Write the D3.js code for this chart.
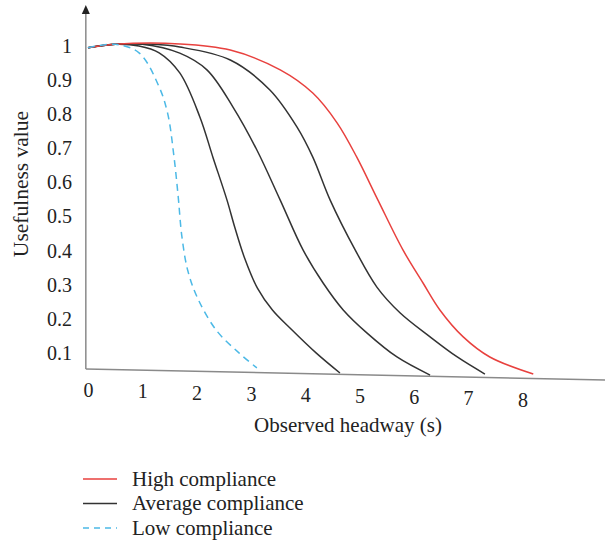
<html>
  <head>
    <script src="https://d3js.org/d3.v7.min.js"></script>
    <style>
      body { margin: 0; background: #fff; }
      text { font-family: "Liberation Serif", "DejaVu Serif", serif; fill: #222; }
    </style>
  </head>
  <body>
    <svg id="chart" width="605" height="541"></svg>
    <script>
      // tick values
      var xTicks = [0, 1, 2, 3, 4, 5, 6, 7, 8];
      var yTicks = [0.1, 0.2, 0.3, 0.4, 0.5, 0.6, 0.7, 0.8, 0.9, 1];

      // curves: [headway (s), usefulness]
      var highCompliance = [
        [0, 0.995], [0.5, 1.005], [1.69, 1.006], [2.62, 0.988], [3.54, 0.93],
        [4.14, 0.862], [4.59, 0.774], [4.95, 0.674], [5.34, 0.548], [5.8, 0.402],
        [6.17, 0.305], [6.48, 0.226], [6.91, 0.147], [7.4, 0.088], [8.2, 0.038]
      ];
      var averageCompliance1 = [
        [0, 0.995], [0.5, 1.005], [0.94, 1.0], [1.31, 0.98], [1.69, 0.921],
        [2.06, 0.792], [2.3, 0.674], [2.56, 0.548], [2.7, 0.47], [2.88, 0.38],
        [3.12, 0.29], [3.4, 0.225], [3.72, 0.173], [4.2, 0.1], [4.64, 0.041]
      ];
      var averageCompliance2 = [
        [0, 0.995], [0.5, 1.005], [1.0, 1.005], [1.69, 0.979], [2.19, 0.93],
        [2.67, 0.821], [3.11, 0.695], [3.54, 0.548], [3.96, 0.402], [4.33, 0.305],
        [4.7, 0.226], [5.14, 0.158], [5.69, 0.088], [6.3, 0.035]
      ];
      var averageCompliance3 = [
        [0, 0.995], [0.5, 1.005], [1.2, 1.005], [1.69, 0.997], [2.62, 0.959],
        [3.35, 0.871], [3.85, 0.762], [4.14, 0.674], [4.46, 0.548], [4.92, 0.402],
        [5.32, 0.293], [5.75, 0.217], [6.3, 0.147], [6.8, 0.088], [7.31, 0.038]
      ];
      var lowCompliance = [
        [0, 0.995], [0.5, 1.005], [0.94, 0.98], [1.31, 0.88], [1.47, 0.8],
        [1.58, 0.68], [1.66, 0.56], [1.73, 0.44], [1.84, 0.34], [2.02, 0.26],
        [2.36, 0.167], [2.78, 0.1], [3.11, 0.056]
      ];

      var legendItems = [
        { label: "High compliance", color: "#e8413e", dash: null },
        { label: "Average compliance", color: "#333333", dash: null },
        { label: "Low compliance", color: "#4cb9e6", dash: "6,5" }
      ];

      var svg = d3.select("#chart");

      var x = d3.scaleLinear().domain([0, 9.6]).range([88, 88 + 9.6 * 54.3]);
      var y = d3.scaleLinear().domain([0, 1]).range([387, 46]);

      // the baseline in the original drifts slightly downward to the right
      var baseStart = [-0.04, 0.053], baseEnd = [9.6, 0.02];
      var slope = (y(baseEnd[1]) - y(baseStart[1])) / (x(baseEnd[0]) - x(baseStart[0]));

      // y axis with arrow
      var yAxisX = x(-0.04);
      svg.append("line")
        .attr("x1", yAxisX).attr("x2", yAxisX)
        .attr("y1", y(baseStart[1])).attr("y2", 13)
        .attr("stroke", "#8a8a8a").attr("stroke-width", 1.5);
      svg.append("path")
        .attr("d", "M" + yAxisX + ",5 L" + (yAxisX - 4) + ",14 L" + (yAxisX + 4) + ",14 Z")
        .attr("fill", "#222");

      // x baseline
      svg.append("line")
        .attr("x1", x(baseStart[0])).attr("y1", y(baseStart[1]))
        .attr("x2", x(baseEnd[0])).attr("y2", y(baseEnd[1]))
        .attr("stroke", "#8a8a8a").attr("stroke-width", 1.5);

      // y tick labels
      var gy = svg.append("g")
        .attr("transform", "translate(72,0)")
        .call(d3.axisLeft(y).tickValues(yTicks).tickSize(0).tickPadding(0)
          .tickFormat(function (d) { return d === 1 ? "1" : d.toFixed(1); }));
      gy.select(".domain").remove();
      gy.selectAll("text")
        .style("font-family", "Liberation Serif, serif")
        .style("font-size", "20px")
        .attr("fill", "#222");

      // x tick labels (follow the sloping baseline)
      var gx = svg.append("g")
        .attr("transform", "translate(0,383)")
        .call(d3.axisBottom(x).tickValues(xTicks).tickSize(0).tickPadding(0)
          .tickFormat(d3.format("d")));
      gx.select(".domain").remove();
      gx.selectAll(".tick text")
        .style("font-family", "Liberation Serif, serif")
        .style("font-size", "20px")
        .attr("fill", "#222")
        .attr("dy", function (d) { return (0.71 * 20 + (x(d) - x(0)) * slope) + "px"; });

      // axis titles
      svg.append("text")
        .attr("x", 348).attr("y", 432)
        .attr("text-anchor", "middle")
        .style("font-size", "21px")
        .text("Observed headway (s)");
      svg.append("text")
        .attr("transform", "translate(28,184) rotate(-90)")
        .attr("text-anchor", "middle")
        .style("font-size", "21.5px")
        .text("Usefulness value");

      // curves
      var line = d3.line()
        .x(function (d) { return x(d[0]); })
        .y(function (d) { return y(d[1]); })
        .curve(d3.curveCatmullRom.alpha(0.5));

      var series = [
        { data: averageCompliance1, style: legendItems[1] },
        { data: averageCompliance2, style: legendItems[1] },
        { data: averageCompliance3, style: legendItems[1] },
        { data: highCompliance, style: legendItems[0] },
        { data: lowCompliance, style: legendItems[2] }
      ];

      svg.selectAll(".curve")
        .data(series)
        .enter()
        .append("path")
        .attr("class", "curve")
        .attr("d", function (d) { return line(d.data); })
        .attr("fill", "none")
        .attr("stroke", function (d) { return d.style.color; })
        .attr("stroke-width", 1.5)
        .attr("stroke-dasharray", function (d) { return d.style.dash === null ? null : "7,5"; });

      // legend
      var legend = svg.append("g").attr("transform", "translate(83,479)");
      var rows = legend.selectAll(".row")
        .data(legendItems)
        .enter()
        .append("g")
        .attr("class", "row")
        .attr("transform", function (d, i) { return "translate(0," + i * 24.5 + ")"; });
      rows.append("line")
        .attr("x1", 0).attr("x2", 34)
        .attr("stroke", function (d) { return d.color; })
        .attr("stroke-width", 1.5)
        .attr("stroke-dasharray", function (d) { return d.dash; });
      rows.append("text")
        .attr("x", 49).attr("dy", "0.33em")
        .style("font-size", "21px")
        .text(function (d) { return d.label; });
    </script>
  </body>
</html>
